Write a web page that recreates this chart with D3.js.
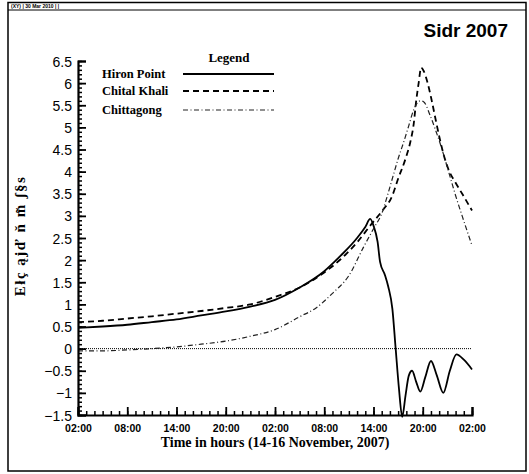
<!DOCTYPE html>
<html>
<head>
<meta charset="utf-8">
<script src="https://cdn.jsdelivr.net/npm/d3@7"></script>
<style>
  body { margin: 0; background: #fff; }
  svg text { fill: #000; }
</style>
</head>
<body>
<div id="chart"></div>
<script>
// hours after 02:00 on 14 Nov 2007
var seriesNames = ["Hiron Point", "Chital Khali", "Chittagong"];
var xTickLabels = ["02:00", "08:00", "14:00", "20:00", "02:00", "08:00", "14:00", "20:00", "02:00"];

var hironHours = [0, 3, 6, 9, 12, 15, 18, 21, 24, 27, 30, 32, 34, 35, 35.6, 36, 36.5, 36.8, 37.4, 37.8, 38.3, 38.7, 39.1, 39.5, 39.9, 40.3, 40.7, 41.2, 41.7, 42.3, 43.0, 43.7, 44.5, 45.3, 46.1, 47, 48];
var hironLevel = [0.47, 0.5, 0.54, 0.6, 0.66, 0.75, 0.84, 0.95, 1.1, 1.38, 1.75, 2.1, 2.5, 2.75, 2.93, 2.78, 2.41, 1.96, 1.66, 1.4, 0.9, 0, -0.9, -1.54, -1.06, -0.61, -0.5, -0.75, -0.97, -0.65, -0.28, -0.6, -1.0, -0.5, -0.13, -0.25, -0.47];

var chitalHours = [0, 3, 6, 9, 12, 15, 18, 21, 24, 27, 30, 32, 34, 35.6, 37, 38.3, 39, 39.9, 40.5, 40.9, 41.2, 41.5, 41.8, 42.1, 42.6, 43.1, 43.6, 44.1, 44.6, 45.2, 46, 46.9, 48];
var chitalLevel = [0.6, 0.63, 0.68, 0.73, 0.79, 0.85, 0.92, 1.0, 1.17, 1.38, 1.72, 2.02, 2.4, 2.78, 3.1, 3.46, 3.84, 4.29, 4.68, 5.08, 5.6, 6.0, 6.35, 6.28, 6.0, 5.6, 5.15, 4.72, 4.35, 4.02, 3.75, 3.47, 3.12];

var chittagongHours = [0, 3, 6, 9, 12, 15, 18, 21, 24, 27, 29, 31, 33, 34.8, 36, 37.1, 37.7, 38.4, 39, 39.7, 40.3, 40.9, 41.7, 42.1, 42.9, 43.5, 44.2, 44.8, 45.4, 46, 46.8, 47.6, 48];
var chittagongLevel = [-0.05, -0.05, -0.03, 0.0, 0.04, 0.1, 0.17, 0.28, 0.43, 0.72, 0.92, 1.25, 1.65, 2.3, 2.71, 3.1, 3.46, 3.91, 4.29, 4.68, 5.04, 5.4, 5.6, 5.58, 5.27, 4.97, 4.59, 4.22, 3.84, 3.46, 3.0, 2.55, 2.33];

var W = 529, H = 474;
var svg = d3.select("#chart").append("svg")
    .attr("width", W).attr("height", H);

// frame and header strip
svg.append("rect").attr("x", 8).attr("y", 2.5).attr("width", 518).attr("height", 468.5)
    .attr("fill", "none").attr("stroke", "#000").attr("stroke-width", 1.5);
svg.append("line").attr("x1", 8).attr("x2", 526).attr("y1", 10).attr("y2", 10)
    .attr("stroke", "#000").attr("stroke-width", 1);
svg.append("text").attr("x", 11).attr("y", 8.2)
    .style("font", "bold 5px 'Liberation Sans', Arial, sans-serif")
    .text("(XY)  |  30 Mar 2010  |  |");

var x = d3.scaleLinear().domain([0, 48]).range([78, 472]);
var y = d3.scaleLinear().domain([-1.5, 6.5]).range([415, 61]);

// zero reference line
svg.append("line")
    .attr("x1", x(0)).attr("x2", x(48)).attr("y1", y(0)).attr("y2", y(0))
    .attr("stroke", "#000").attr("stroke-width", 1).attr("stroke-dasharray", "1,1");

// series
var line = d3.line().x(function (d) { return x(d[0]); }).y(function (d) { return y(d[1]); })
    .curve(d3.curveMonotoneX);

function zip(a, b) { return a.map(function (t, i) { return [t, b[i]]; }); }

var styles = [
    {dash: null, width: 1.8, color: "#000"},
    {dash: "6,4", width: 1.8, color: "#000"},
    {dash: "5,2.5,1,2.5", width: 1.2, color: "#222"}
];
var series = [zip(hironHours, hironLevel), zip(chitalHours, chitalLevel), zip(chittagongHours, chittagongLevel)];

svg.selectAll(".series").data(series).enter().append("path")
    .attr("class", "series")
    .attr("d", line)
    .attr("fill", "none")
    .attr("stroke", function (d, i) { return styles[i].color; })
    .attr("stroke-width", function (d, i) { return styles[i].width; })
    .attr("stroke-dasharray", function (d, i) { return styles[i].dash; });

// y axis
var yMajor = d3.range(-1.5, 6.51, 0.5);
var yMinor = d3.range(-15, 66, 1).map(function (v) { return v / 10; });
svg.append("g").attr("transform", "translate(78,0)")
    .call(d3.axisLeft(y).tickValues(yMinor).tickSize(-4).tickFormat(""))
    .call(function (g) { g.select(".domain").remove(); })
    .selectAll("line").attr("stroke-width", 1.5);
var yAxis = svg.append("g").attr("transform", "translate(78,0)")
    .call(d3.axisLeft(y).tickValues(yMajor).tickSize(-8).tickPadding(6)
        .tickFormat(function (d) { return d3.format("")(+d.toFixed(1)); }));
yAxis.select(".domain").attr("stroke-width", 2.2);
yAxis.selectAll("line").attr("stroke-width", 1.8);
yAxis.selectAll("text").style("font", "14px 'Liberation Sans', Arial, sans-serif").attr("dy", "0.36em");

// x axis
var xMajor = d3.range(0, 49, 6);
var xMinor = d3.range(0, 49, 1);
svg.append("g").attr("transform", "translate(0,415)")
    .call(d3.axisBottom(x).tickValues(xMinor).tickSize(-4).tickFormat(""))
    .call(function (g) { g.select(".domain").remove(); })
    .selectAll("line").attr("stroke-width", 1.5);
var xAxis = svg.append("g").attr("transform", "translate(0,415)")
    .call(d3.axisBottom(x).tickValues(xMajor).tickSize(-8).tickPadding(10)
        .tickFormat(function (d, i) { return xTickLabels[i]; }));
xAxis.select(".domain").attr("stroke-width", 2.2);
xAxis.selectAll("line").attr("stroke-width", 1.8);
xAxis.selectAll("text").style("font", "bold 10.5px 'Liberation Sans', Arial, sans-serif");

// axis titles
svg.append("text").attr("x", 275).attr("y", 447).attr("text-anchor", "middle")
    .style("font", "bold 14px 'Liberation Serif', 'Times New Roman', serif")
    .text("Time in hours (14-16 November, 2007)");
svg.append("text").attr("transform", "translate(25,236) rotate(-90)").attr("text-anchor", "middle")
    .style("font", "bold 15px 'Liberation Serif', 'Times New Roman', serif")
    .style("letter-spacing", "1.5px")
    .text("E\u0142\u00e7 \u0105j\u010f \u0148 m\u0303 \u0283\u00a7s");

// title
svg.append("text").attr("x", 508).attr("y", 37).attr("text-anchor", "end")
    .style("font", "bold 19px 'Liberation Sans', Arial, sans-serif")
    .text("Sidr 2007");

// legend
svg.append("text").attr("x", 229).attr("y", 62).attr("text-anchor", "middle")
    .style("font", "bold 13px 'Liberation Serif', 'Times New Roman', serif")
    .text("Legend");
var legendY = [74, 91, 110];
var leg = svg.selectAll(".leg").data(seriesNames).enter().append("g").attr("class", "leg");
leg.append("text").attr("x", 102).attr("y", function (d, i) { return legendY[i] + 4; })
    .style("font", "bold 12.5px 'Liberation Serif', 'Times New Roman', serif")
    .text(function (d) { return d; });
leg.append("line").attr("x1", 183).attr("x2", 274)
    .attr("y1", function (d, i) { return legendY[i]; }).attr("y2", function (d, i) { return legendY[i]; })
    .attr("stroke", function (d, i) { return styles[i].color; })
    .attr("stroke-width", function (d, i) { return styles[i].width; })
    .attr("stroke-dasharray", function (d, i) { return styles[i].dash; });
</script>
</body>
</html>
